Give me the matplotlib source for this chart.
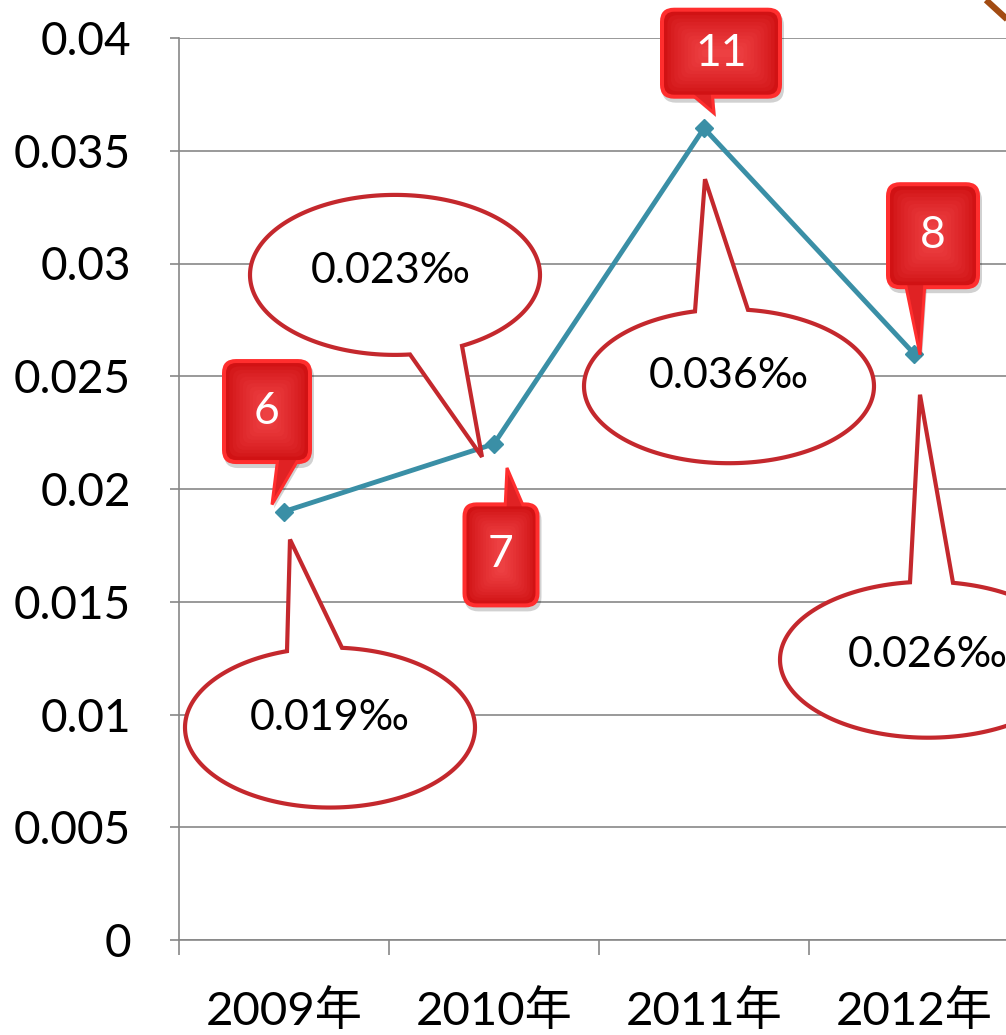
import numpy as np
import matplotlib
matplotlib.use("Agg")
import matplotlib.pyplot as plt
import matplotlib.transforms as mtransforms
from matplotlib.patches import FancyBboxPatch, Polygon
from matplotlib.lines import Line2D

# ---- data ----
years = ["2009年", "2010年", "2011年", "2012年"]
rates = [0.019, 0.022, 0.036, 0.026]
bubble_labels = ["0.019‰", "0.023‰", "0.036‰", "0.026‰"]
tag_labels = ["6", "7", "11", "8"]
y_ticks = [0, 0.005, 0.01, 0.015, 0.02, 0.025, 0.03, 0.035, 0.04]
y_tick_labels = ["0", "0.005", "0.01", "0.015", "0.02", "0.025", "0.03", "0.035", "0.04"]

# ---- layout (pixel offsets from each data point, x right / y up) ----
# oval: center, semi axes, tail base x (rel. to center), tail side, tail tip
bubble_layout = [
    dict(c=(46, -216), ab=(145, 80), base=(-43, 12), side=1, tip=(6, -28), txt=(0, 10)),
    dict(c=(-99, 169), ab=(145, 80), base=(15, 67), side=-1, tip=(-12, -13), txt=(-4, 4)),
    dict(c=(25, -258), ab=(145, 77), base=(-34, 19), side=1, tip=(1, -51), txt=(0, 10)),
    dict(c=(14, -306), ab=(148, 78), base=(-18, 25), side=1, tip=(6, -41), txt=(0, 5)),
]
# red tag: center, size, tail (base1, tip, base2)
tag_layout = [
    dict(c=(-17, 100), wh=(90, 105), tail=[(-6, 55), (-12, 7), (16, 55)]),
    dict(c=(7, -111), wh=(77, 105), tail=[(11, -66), (13, -24), (31, -66)]),
    dict(c=(17, 75), wh=(122, 91), tail=[(-16, 37), (10, 15), (8, 37)]),
    dict(c=(19, 118), wh=(94, 107), tail=[(-9, 72), (6, -1), (11, 72)]),
]

LINE_C = "#3a8fa6"
GRID_C = "#878787"
BUBBLE_C = "#c4282d"
FONT = ["Lato", "Noto Sans CJK SC", "DejaVu Sans"]

plt.rcParams["font.family"] = FONT

fig = plt.figure(figsize=(10.06, 10.35), dpi=100)
ax = fig.add_axes([179 / 1006, 95 / 1035, 840 / 1006, 902 / 1035])

x = np.arange(len(years))
ax.set_xlim(-0.5, 3.5)
ax.set_ylim(0, 0.04)

ax.set_yticks(y_ticks)
ax.set_yticklabels(y_tick_labels, fontsize=33)
ax.yaxis.grid(True, color=GRID_C, lw=1.2)
ax.set_axisbelow(True)
ax.tick_params(axis="y", length=6.5, width=1.2, color=GRID_C, pad=28)

ax.set_xticks(np.arange(-0.5, 3.6, 1.0))
ax.set_xticklabels([])
ax.set_xticks(x, minor=True)
ax.set_xticklabels(years, minor=True, fontsize=34)
ax.tick_params(axis="x", which="major", length=11, width=1.2, color=GRID_C)
ax.tick_params(axis="x", which="minor", length=0, pad=35)

for s in ["top", "right"]:
    ax.spines[s].set_visible(False)
for s in ["left", "bottom"]:
    ax.spines[s].set_color(GRID_C)
    ax.spines[s].set_linewidth(1.2)

ax.plot(x, rates, color=LINE_C, lw=3.5, marker="D", markersize=9.5, zorder=3)


def point_trans(xi, yi):
    return mtransforms.IdentityTransform() + mtransforms.ScaledTranslation(xi, yi, ax.transData)


def bubble(tr, lay, label):
    cx, cy = lay["c"]
    a, b = lay["ab"]
    s = lay["side"]
    t1 = s * np.arccos(lay["base"][0] / a)
    t2 = s * np.arccos(lay["base"][1] / a)
    if s > 0:
        ts = np.linspace(t1, t2 + 2 * np.pi, 200)
    else:
        ts = np.linspace(t2, t1 + 2 * np.pi, 200)
    pts = [(cx + a * np.cos(t), cy + b * np.sin(t)) for t in ts]
    pts.append(lay["tip"])
    ax.add_patch(Polygon(pts, closed=True, facecolor="white", edgecolor=BUBBLE_C,
                         lw=3, joinstyle="miter", transform=tr, clip_on=False, zorder=4))
    ax.text(cx + lay["txt"][0], cy + lay["txt"][1], label, transform=tr, fontsize=31,
            ha="center", va="center", color="black", zorder=5, clip_on=False)


def rrect(cx, cy, w, h, r, tr, **kw):
    r = min(r, w / 2 - 0.5, h / 2 - 0.5)
    p = FancyBboxPatch((cx - w / 2 + r, cy - h / 2 + r), w - 2 * r, h - 2 * r,
                       boxstyle=f"round,pad={r},rounding_size={r}",
                       transform=tr, clip_on=False, **kw)
    ax.add_patch(p)
    return p


def tag(tr, lay, label):
    cx, cy = lay["c"]
    w, h = lay["wh"]
    b1, tip, b2 = lay["tail"]
    # shadow
    sh = mtransforms.Affine2D().translate(2, -4) + tr
    rrect(cx, cy, w, h, 14, sh, facecolor="#000000", alpha=0.18, lw=0, zorder=5)
    ax.add_patch(Polygon([b1, tip, b2], closed=True, facecolor="#000000", alpha=0.18,
                         lw=0, transform=sh, clip_on=False, zorder=5))
    # bright rim
    rrect(cx, cy, w, h, 14, tr, facecolor="#ff2e2e", lw=0, zorder=6)
    ax.add_patch(Polygon([b1, tip, b2], closed=True, facecolor="#e02224", edgecolor="#ff2e2e",
                         lw=2.2, transform=tr, clip_on=False, zorder=6))
    # radial-ish gradient
    dark = np.array([0.82, 0.07, 0.08])
    light = np.array([0.93, 0.25, 0.26])
    n = 12
    for i in range(n):
        f = i / (n - 1)
        inset = 4 + f * (min(w, h) / 2 - 8)
        col = dark + (light - dark) * f ** 0.8
        rrect(cx, cy, w - 2 * inset, h - 2 * inset, max(10 - f * 6, 2), tr,
              facecolor=col, lw=0, zorder=7)
    ax.text(cx, cy, label, transform=tr, fontsize=32, color="white",
            ha="center", va="center", zorder=8, clip_on=False)


for i in range(len(years)):
    tr = point_trans(x[i], rates[i])
    bubble(tr, bubble_layout[i], bubble_labels[i])
    tag(tr, tag_layout[i], tag_labels[i])

# decorative brown stroke at top right corner
fig.add_artist(Line2D([986 / 1006, 1010 / 1006], [1 - 0 / 1035, 1 - 22 / 1035],
                      transform=fig.transFigure, color="#a24b12", lw=4.5, solid_capstyle="butt"))

fig.savefig("out.png", dpi=100)
